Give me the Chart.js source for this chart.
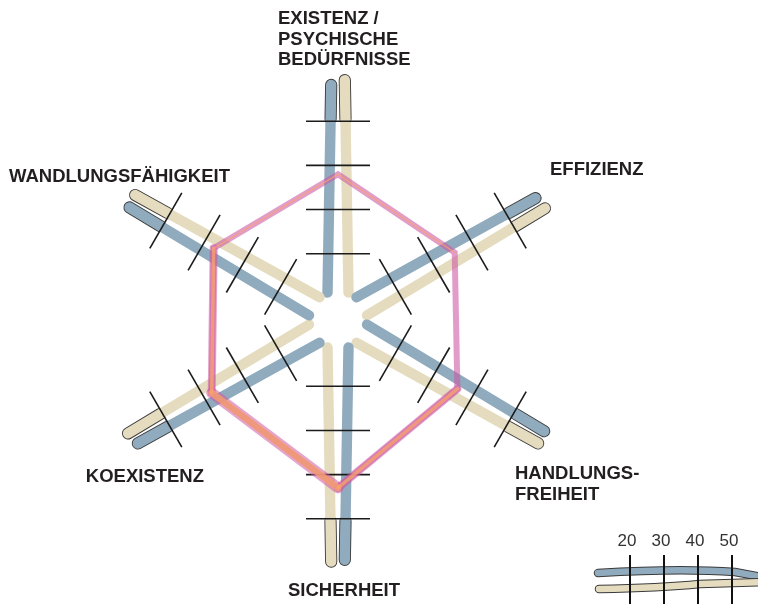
<!DOCTYPE html>
<html>
<head>
<meta charset="utf-8">
<script src="https://cdn.jsdelivr.net/npm/chart.js@4.4.0/dist/chart.umd.min.js"></script>
<style>
  html, body { margin: 0; padding: 0; background: #fff; }
  #wrap { position: relative; width: 758px; height: 605px; }
</style>
</head>
<body>
<div id="wrap"><canvas id="profileChart"></canvas></div>
<script>
// axes, clockwise from the top
var axisLabels = [['EXISTENZ /', 'PSYCHISCHE', 'BEDÜRFNISSE'], 'EFFIZIENZ', ['HANDLUNGS-', 'FREIHEIT'], 'SICHERHEIT', 'KOEXISTENZ', 'WANDLUNGSFÄHIGKEIT'];
var profileValues = [38, 35.5, 36.2, 43, 38, 37.5];
var tickValues = [20, 30, 40, 50];
var strokeStart = 11.2;
var blueEnd = [58.2, 57.5, 58, 59.3, 58.2, 58.6];
var beigeEnd = [59.3, 58.2, 58.2, 59.7, 59, 58.9];

var BLUE = '#90abbd';
var BEIGE = '#e5dcbf';
var INK = '#231f20';

function along(scale, i, value, side, offset) {
    var d = scale.getDistanceFromCenterForValue(value);
    var p = scale.getPointPosition(i, d);
    var ux = (p.x - scale.xCenter) / d, uy = (p.y - scale.yCenter) / d;
    return { x: p.x + uy * offset * side, y: p.y - ux * offset * side, ux: ux, uy: uy };
}

function strokeLine(ctx, a, b, color, width) {
    ctx.beginPath();
    ctx.moveTo(a.x, a.y);
    ctx.lineTo(b.x, b.y);
    ctx.strokeStyle = color;
    ctx.lineWidth = width;
    ctx.stroke();
}

var axisStrokes = {
    id: 'axisStrokes',
    beforeDatasetsDraw: function (chart) {
        var scale = chart.scales.r;
        var ctx = chart.ctx;
        ctx.save();
        ctx.lineCap = 'round';
        for (var i = 0; i < axisLabels.length; i++) {
            [[1, blueEnd[i], BLUE], [-1, beigeEnd[i], BEIGE]].forEach(function (s) {
                var side = s[0], end = s[1];
                var a = along(scale, i, strokeStart, side, 10.5);
                var b = along(scale, i, end, side, 6.8);
                var m = along(scale, i, 50.5, side, 6.8 + 3.7 * (end - 50.5) / (end - strokeStart));
                strokeLine(ctx, m, b, '#3a3a3a', 12.2);
                strokeLine(ctx, a, b, s[2], 10.4);
            });
        }
        // tick marks across each axis
        ctx.lineCap = 'butt';
        for (var j = 0; j < axisLabels.length; j++) {
            tickValues.forEach(function (v) {
                strokeLine(ctx, along(scale, j, v, 1, 32), along(scale, j, v, -1, 32), '#1b1b1b', 1.6);
            });
        }
        // wider band on the lower part of the profile
        var pts = chart.getDatasetMeta(0).data;
        var bandWidth = [0, 0, 8, 11, 8, 0];
        ctx.lineCap = 'round';
        for (var k = 0; k < pts.length; k++) {
            if (!bandWidth[k]) continue;
            strokeLine(ctx, pts[k], pts[(k + 1) % pts.length], 'rgba(205,90,165,0.55)', bandWidth[k]);
        }
        ctx.restore();
    },
    afterDatasetsDraw: function (chart) {
        var ctx = chart.ctx;
        var pts = chart.getDatasetMeta(0).data;
        var coreWidth = [1.2, 0, 3.5, 6.5, 3.5, 1.2];
        ctx.save();
        ctx.lineCap = 'round';
        for (var k = 0; k < pts.length; k++) {
            if (!coreWidth[k]) continue;
            strokeLine(ctx, pts[k], pts[(k + 1) % pts.length], 'rgba(248,165,105,0.75)', coreWidth[k]);
        }
        ctx.restore();
    }
};

var labelsAndKey = {
    id: 'labelsAndKey',
    afterDraw: function (chart) {
        var ctx = chart.ctx;
        var spots = [
            { x: 278, y: 24, align: 'left' },
            { x: 550, y: 175, align: 'left' },
            { x: 515, y: 479, align: 'left' },
            { x: 344, y: 596, align: 'center' },
            { x: 204, y: 482, align: 'right' },
            { x: 9, y: 182, align: 'left' }
        ];
        ctx.save();
        ctx.fillStyle = INK;
        ctx.font = 'bold 18.5px "Liberation Sans", Arial, sans-serif';
        ctx.textBaseline = 'alphabetic';
        axisLabels.forEach(function (lab, i) {
            var lines = Array.isArray(lab) ? lab : [lab];
            ctx.textAlign = spots[i].align;
            lines.forEach(function (t, n) {
                ctx.fillText(t, spots[i].x, spots[i].y + n * 20.5);
            });
        });

        // scale key, bottom right
        var keyX = function (v) { return 630 + (v - 20) * 3.4; };
        ctx.lineCap = 'round';
        [['#3a3a3a', 8.5], [BLUE, 6.5]].forEach(function (s) {
            ctx.beginPath();
            ctx.moveTo(598, 573);
            ctx.quadraticCurveTo(680, 568, 735, 572);
            ctx.lineTo(762, 577);
            ctx.strokeStyle = s[0];
            ctx.lineWidth = s[1];
            ctx.stroke();
        });
        [['#3a3a3a', 8.5], [BEIGE, 6.5]].forEach(function (s) {
            ctx.beginPath();
            ctx.moveTo(599, 589);
            ctx.quadraticCurveTo(660, 588, 700, 584);
            ctx.lineTo(762, 582);
            ctx.strokeStyle = s[0];
            ctx.lineWidth = s[1];
            ctx.stroke();
        });
        ctx.lineCap = 'butt';
        ctx.font = '17px "Liberation Sans", Arial, sans-serif';
        ctx.fillStyle = '#333';
        ctx.textAlign = 'center';
        tickValues.forEach(function (v) {
            var x = keyX(v);
            ctx.beginPath();
            ctx.moveTo(x, 555);
            ctx.lineTo(x, 604);
            ctx.strokeStyle = '#111';
            ctx.lineWidth = 2;
            ctx.stroke();
            ctx.fillText(String(v), x - 3, 546);
        });
        ctx.restore();
    }
};

new Chart(document.getElementById('profileChart').getContext('2d'), {
    type: 'radar',
    data: {
        labels: axisLabels,
        datasets: [{
            data: profileValues,
            borderColor: 'rgba(205,90,165,0.6)',
            borderWidth: 6,
            borderJoinStyle: 'miter',
            backgroundColor: 'transparent',
            fill: false,
            pointRadius: 0,
            pointHoverRadius: 0
        }]
    },
    options: {
        responsive: true,
        maintainAspectRatio: false,
        animation: false,
        layout: {
            padding: { left: 95, right: 177, top: 77, bottom: 42 }
        },
        scales: {
            r: {
                min: 5,
                max: 60,
                ticks: { display: false, stepSize: 10 },
                grid: { display: false },
                angleLines: { display: false },
                pointLabels: { display: false }
            }
        },
        plugins: {
            legend: { display: false },
            tooltip: { enabled: false }
        }
    },
    plugins: [axisStrokes, labelsAndKey]
});
</script>
</body>
</html>
